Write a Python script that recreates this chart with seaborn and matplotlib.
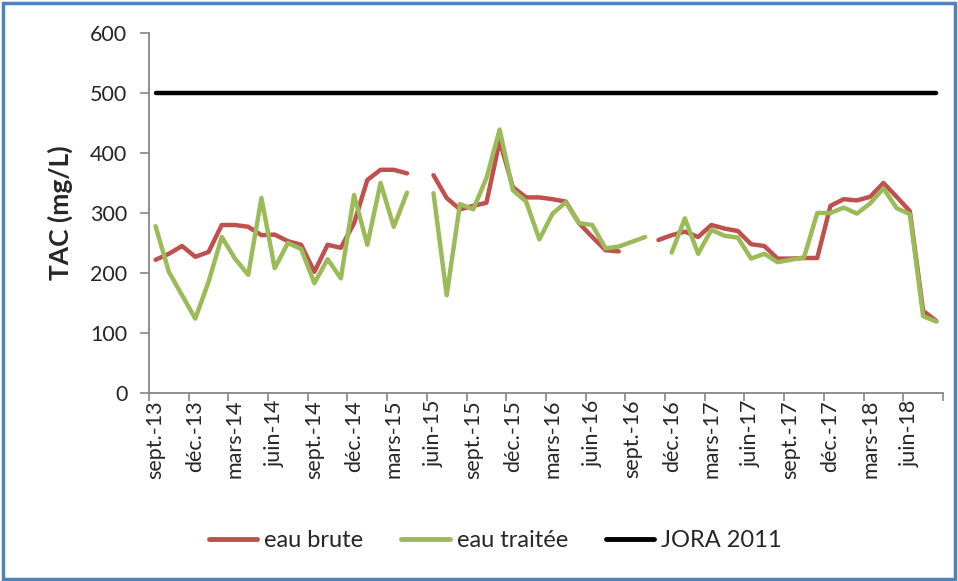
import numpy as np
import pandas as pd
import matplotlib
matplotlib.use("Agg")
import matplotlib.pyplot as plt
from matplotlib.patches import Rectangle
from matplotlib.ticker import FixedLocator
import seaborn as sns

# Monthly TAC measurements, sept. 2013 -> août 2018 (None = no sample)
months = [
    "sept.-13", "oct.-13", "nov.-13", "déc.-13", "janv.-14", "févr.-14",
    "mars-14", "avr.-14", "mai-14", "juin-14", "juil.-14", "août-14",
    "sept.-14", "oct.-14", "nov.-14", "déc.-14", "janv.-15", "févr.-15",
    "mars-15", "avr.-15", "mai-15", "juin-15", "juil.-15", "août-15",
    "sept.-15", "oct.-15", "nov.-15", "déc.-15", "janv.-16", "févr.-16",
    "mars-16", "avr.-16", "mai-16", "juin-16", "juil.-16", "août-16",
    "sept.-16", "oct.-16", "nov.-16", "déc.-16", "janv.-17", "févr.-17",
    "mars-17", "avr.-17", "mai-17", "juin-17", "juil.-17", "août-17",
    "sept.-17", "oct.-17", "nov.-17", "déc.-17", "janv.-18", "févr.-18",
    "mars-18", "avr.-18", "mai-18", "juin-18", "juil.-18", "août-18",
]

eau_brute = [
    222, 232, 245, 227, 235, 280, 280, 277, 263, 264, 253, 247,
    202, 247, 242, 283, 355, 372, 372, 366, None, 363, 325, 306,
    312, 317, 420, 343, 326, 326, 323, 319, 283, 260, 238, 236,
    None, None, 255, 263, 269, 260, 280, 274, 270, 248, 245, 224,
    224, 225, 225, 312, 323, 321, 327, 350, 327, 303, 137, 120,
]

eau_traitee = [
    278, 202, 163, 124, 185, 260, 224, 197, 325, 208, 250, 240,
    183, 223, 191, 330, 247, 350, 277, 334, None, 333, 163, 315,
    306, 358, 439, 338, 319, 256, 299, 318, 283, 280, 241, 244,
    252, 260, None, 234, 291, 232, 272, 262, 259, 224, 232, 218,
    222, 226, 300, 300, 309, 299, 316, 341, 308, 298, 128, 119,
]

jora_2011 = [500] * len(months)

series_names = ["eau brute", "eau traitée", "JORA 2011"]
series_values = [eau_brute, eau_traitee, jora_2011]
colors = ["#C0504D", "#9BBB59", "#000000"]

# Long-form table; each unbroken run of values gets its own unit so gaps stay open
rows = []
for name, vals in zip(series_names, series_values):
    seg = 0
    prev_missing = False
    for i, v in enumerate(vals):
        if v is None:
            prev_missing = True
            continue
        if prev_missing:
            seg += 1
            prev_missing = False
        rows.append({"mois": i, "TAC": v, "série": name, "segment": f"{name}-{seg}"})
df = pd.DataFrame(rows)

sns.set_style("white")
plt.rcParams["font.family"] = ["Lato", "DejaVu Sans"]

fig = plt.figure(figsize=(9.58, 5.81), dpi=100)
ax = fig.add_axes([0.1555, 0.3236, 0.8288, 0.6196])

sns.lineplot(
    data=df, x="mois", y="TAC", hue="série", units="segment",
    estimator=None, palette=dict(zip(series_names, colors)),
    hue_order=series_names, linewidth=3.2, sort=True, legend=False, ax=ax,
)

ax.set_xlim(-0.5, len(months) - 0.5)
ax.set_ylim(0, 600)
ax.set_yticks(np.arange(0, 601, 100))

label_pos = list(range(0, len(months), 3))
ax.set_xticks(label_pos)
ax.set_xticklabels([months[i] for i in label_pos], rotation=90, fontsize=15.5)
ax.xaxis.set_minor_locator(FixedLocator(np.arange(-0.5, len(months), 3)))
ax.tick_params(axis="x", which="major", length=0, pad=5)
ax.tick_params(axis="x", which="minor", length=6, width=1.2, color="#868686",
               direction="out", bottom=True)
ax.tick_params(axis="y", length=6.5, width=1.2, color="#868686", direction="out",
               left=True, labelsize=15.5, pad=9)

for side in ["top", "right"]:
    ax.spines[side].set_visible(False)
for side in ["left", "bottom"]:
    ax.spines[side].set_color("#868686")
    ax.spines[side].set_linewidth(1.3)

ax.set_xlabel("")
ax.set_ylabel("TAC (mg/L)", fontsize=19, fontweight="bold")
ax.yaxis.set_label_coords(-0.096, 0.5)
ax.grid(False)

handles = [plt.Line2D([], [], color=c, lw=3.5) for c in colors]
fig.legend(handles, series_names, loc="center", bbox_to_anchor=(0.517, 0.069),
           ncol=3, frameon=False, fontsize=17, handlelength=2.05,
           handletextpad=0.3, columnspacing=1.6)

fig.patches.append(Rectangle((0.003, 0.004), 0.994, 0.991, transform=fig.transFigure,
                             fill=False, edgecolor="#4F81BD", linewidth=2.5))

fig.savefig("out.png", dpi=100)
